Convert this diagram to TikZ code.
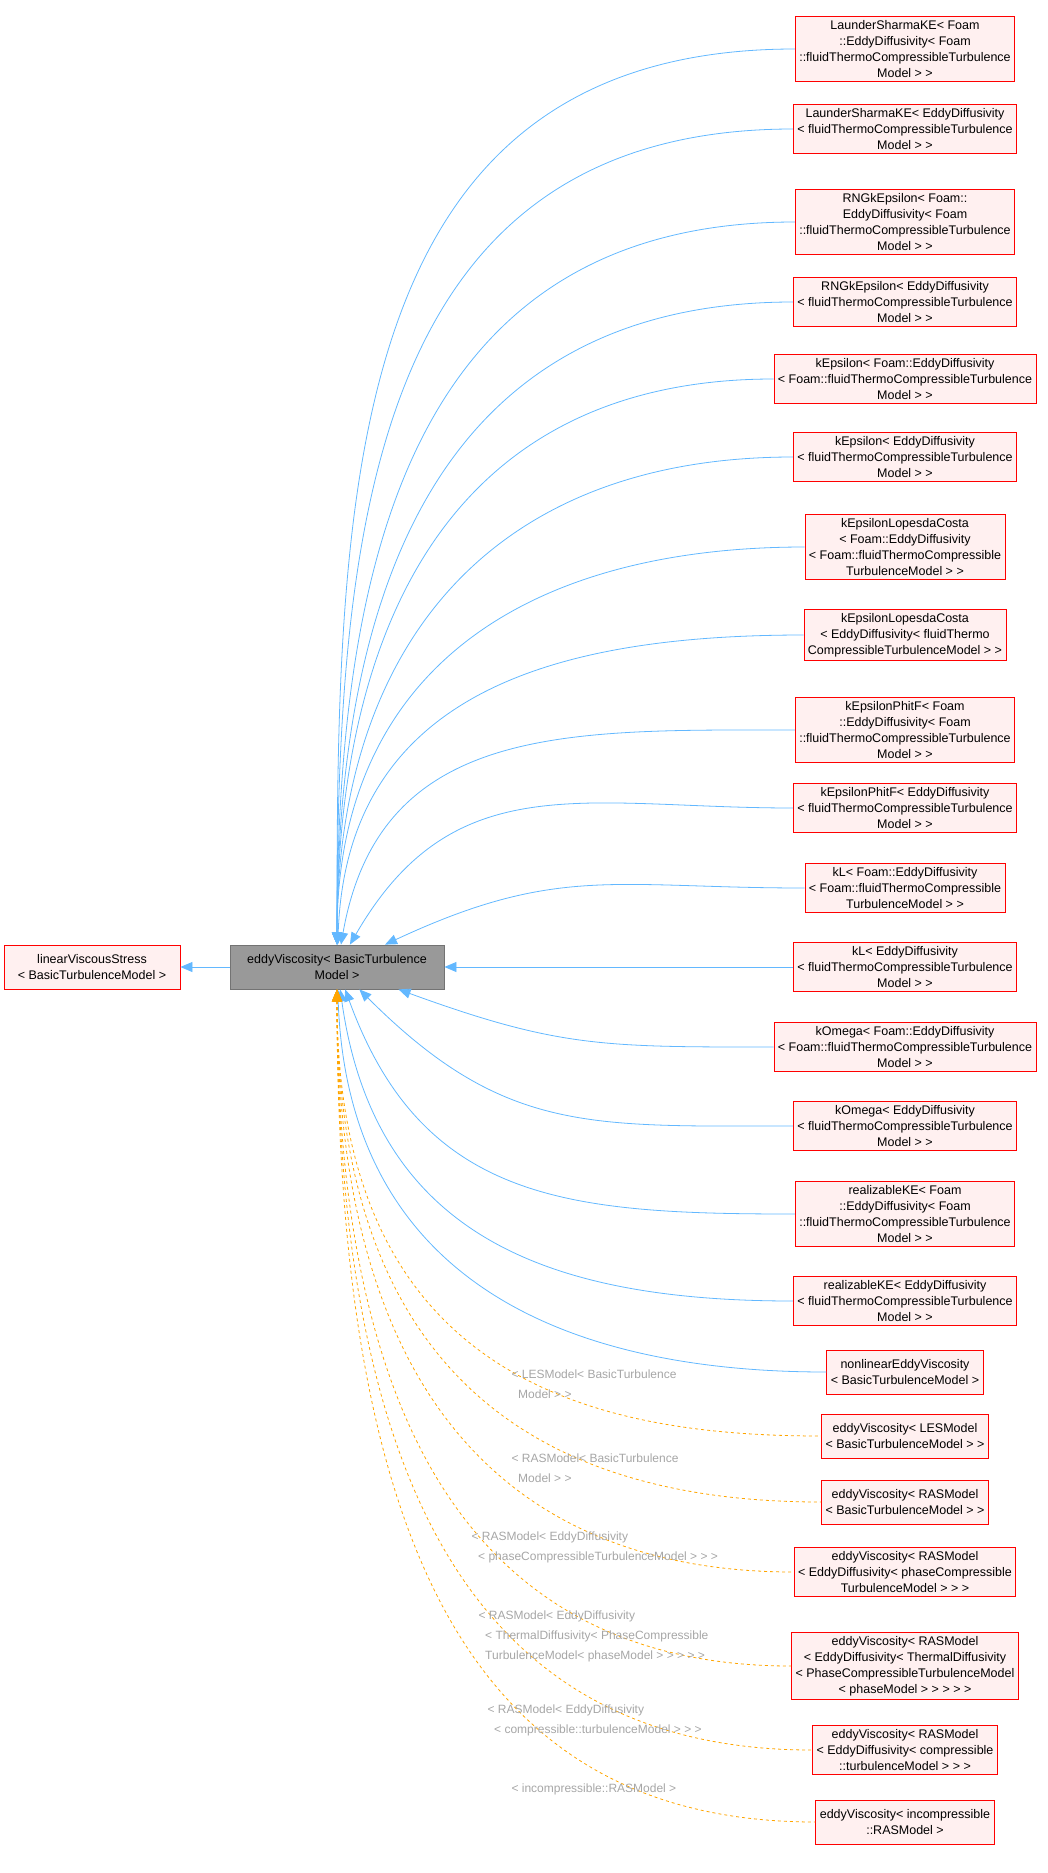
\documentclass[tikz,border=0pt]{standalone}
\usepackage{fontspec}
\setmainfont{Liberation Sans}
\usetikzlibrary{arrows.meta}
\definecolor{edgeblue}{HTML}{63B8FF}
\definecolor{edgeorange}{HTML}{FFA500}
\definecolor{boxfill}{HTML}{FFF0F0}
\begin{document}
\begin{tikzpicture}[x=1pt,y=-1pt,>={Triangle[length=12pt,width=10pt]},
                    font=\fontsize{12.5}{16}\selectfont]
  \tikzstyle{cls}=[draw=red,fill=boxfill,align=center,inner sep=4pt,minimum height=44pt,thick]
  \tikzstyle{inh}=[<-,draw=edgeblue,thick]
  \tikzstyle{tmpl}=[<-,draw=edgeorange,thick,dashed]
  \tikzstyle{lbl}=[text=gray!70,align=left,anchor=north west,font=\fontsize{12}{20}\selectfont]
  \useasboundingbox (0,0) rectangle (1047,1873);

  \node[draw=gray!90!black,fill=gray!80,align=center,inner sep=4pt,minimum width=214pt,minimum height=44pt,thick] (mid) at (337,967) {eddyViscosity< BasicTurbulence\\Model >};
  \node[cls,minimum width=176pt] (base) at (92,967) {linearViscousStress\\< BasicTurbulenceModel >};
  \draw[inh] (base) -- (mid);

  \foreach \nm/\y/\ang/\txt in {
    n1/49/90/{LaunderSharmaKE< Foam\\::EddyDiffusivity< Foam\\::fluidThermoCompressibleTurbulence\\Model > >},
    n2/129/90/{LaunderSharmaKE< EddyDiffusivity\\< fluidThermoCompressibleTurbulence\\Model > >},
    n3/222/90/{RNGkEpsilon< Foam::\\EddyDiffusivity< Foam\\::fluidThermoCompressibleTurbulence\\Model > >},
    n4/302/90/{RNGkEpsilon< EddyDiffusivity\\< fluidThermoCompressibleTurbulence\\Model > >},
    n5/379/90/{kEpsilon< Foam::EddyDiffusivity\\< Foam::fluidThermoCompressibleTurbulence\\Model > >},
    n6/457/90/{kEpsilon< EddyDiffusivity\\< fluidThermoCompressibleTurbulence\\Model > >},
    n7/547/90/{kEpsilonLopesdaCosta\\< Foam::EddyDiffusivity\\< Foam::fluidThermoCompressible\\TurbulenceModel > >},
    n8/635/88/{kEpsilonLopesdaCosta\\< EddyDiffusivity< fluidThermo\\CompressibleTurbulenceModel > >},
    n9/730/80/{kEpsilonPhitF< Foam\\::EddyDiffusivity< Foam\\::fluidThermoCompressibleTurbulence\\Model > >},
    n10/808/60/{kEpsilonPhitF< EddyDiffusivity\\< fluidThermoCompressibleTurbulence\\Model > >},
    n11/888/25/{kL< Foam::EddyDiffusivity\\< Foam::fluidThermoCompressible\\TurbulenceModel > >},
    n12/967/0/{kL< EddyDiffusivity\\< fluidThermoCompressibleTurbulence\\Model > >},
    n13/1047/-20/{kOmega< Foam::EddyDiffusivity\\< Foam::fluidThermoCompressibleTurbulence\\Model > >},
    n14/1126/-45/{kOmega< EddyDiffusivity\\< fluidThermoCompressibleTurbulence\\Model > >},
    n15/1214/-70/{realizableKE< Foam\\::EddyDiffusivity< Foam\\::fluidThermoCompressibleTurbulence\\Model > >},
    n16/1301/-82/{realizableKE< EddyDiffusivity\\< fluidThermoCompressibleTurbulence\\Model > >},
    n17/1372/-88/{nonlinearEddyViscosity\\< BasicTurbulenceModel >}} {
    \node[cls] (\nm) at (905,\y) {\txt};
    \draw[inh] (mid) to[out=\ang,in=180,looseness=1.15] (\nm.west);
  }

  \foreach \nm/\y/\txt in {
    t1/1436/{eddyViscosity< LESModel\\< BasicTurbulenceModel > >},
    t2/1502/{eddyViscosity< RASModel\\< BasicTurbulenceModel > >},
    t3/1572/{eddyViscosity< RASModel\\< EddyDiffusivity< phaseCompressible\\TurbulenceModel > > >},
    t4/1666/{eddyViscosity< RASModel\\< EddyDiffusivity< ThermalDiffusivity\\< PhaseCompressibleTurbulenceModel\\< phaseModel > > > > >},
    t5/1750/{eddyViscosity< RASModel\\< EddyDiffusivity< compressible\\::turbulenceModel > > >},
    t6/1822/{eddyViscosity< incompressible\\::RASModel >}} {
    \node[cls] (\nm) at (905,\y) {\txt};
    \draw[tmpl] (mid) to[out=-90,in=180,out looseness=1.5,in looseness=0.9] (\nm.west);
  }

  \node[lbl] (l1) at (508,1366) {< LESModel< BasicTurbulence\\\ \ Model > >};
  \node[lbl] (l2) at (508,1450) {< RASModel< BasicTurbulence\\\ \ Model > >};
  \node[lbl] (l3) at (468,1528) {< RASModel< EddyDiffusivity\\\ \ < phaseCompressibleTurbulenceModel > > >};
  \node[lbl] (l4) at (475,1607) {< RASModel< EddyDiffusivity\\\ \ < ThermalDiffusivity< PhaseCompressible\\\ \ TurbulenceModel< phaseModel > > > > >};
  \node[lbl] (l5) at (484,1701) {< RASModel< EddyDiffusivity\\\ \ < compressible::turbulenceModel > > >};
  \node[lbl] (l6) at (508,1780) {< incompressible::RASModel >};
\end{tikzpicture}
\end{document}
